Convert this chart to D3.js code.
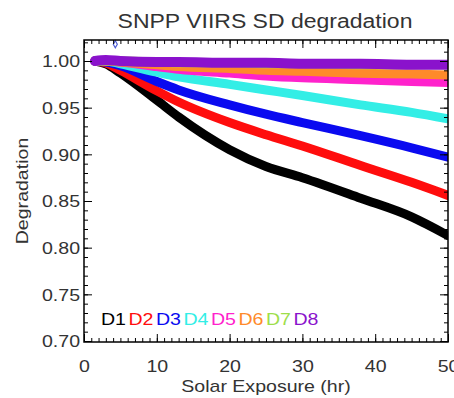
<!DOCTYPE html>
<html>
<head>
<meta charset="utf-8">
<script src="https://d3js.org/d3.v7.min.js"></script>
<style>
  body { margin: 0; background: #fff; }
  svg { display: block; font-family: "Liberation Sans", Arial, sans-serif; }
</style>
</head>
<body>
<svg id="chart" width="454" height="398"></svg>
<script>
// solar exposure (hr) sample points shared by all detectors
var hours = [1.5, 3, 5, 10, 13, 20, 25, 30, 38, 45, 50];

// degradation per detector
var d1 = [1.000, 0.997, 0.987, 0.958, 0.940, 0.905, 0.887, 0.875, 0.853, 0.833, 0.813];
var d2 = [1.000, 0.998, 0.990, 0.968, 0.956, 0.934, 0.921, 0.909, 0.888, 0.870, 0.856];
var d3s = [1.000, 0.999, 0.995, 0.978, 0.969, 0.953, 0.943, 0.934, 0.920, 0.907, 0.897];
var d4 = [1.000, 1.000, 0.997, 0.988, 0.983, 0.975, 0.969, 0.963, 0.953, 0.945, 0.938];
var d5 = [1.000, 1.000, 0.999, 0.994, 0.991, 0.987, 0.984, 0.982, 0.980, 0.978, 0.977];
var d6 = [1.000, 1.000, 0.999, 0.996, 0.994, 0.992, 0.990, 0.989, 0.987, 0.986, 0.985];
var d7 = [1.000, 1.000, 1.000, 0.999, 0.998, 0.998, 0.997, 0.997, 0.996, 0.996, 0.996];
var d8 = [1.000, 1.001, 1.000, 0.999, 0.999, 0.998, 0.998, 0.997, 0.997, 0.996, 0.996];

var names = ["D1", "D2", "D3", "D4", "D5", "D6", "D7", "D8"];
var colors = ["#000000", "#ff0d0d", "#0a0af0", "#33eee6", "#ff22cc", "#ff8a2a", "#9ede4a", "#8a12cc"];
var series = [d1, d2, d3s, d4, d5, d6, d7, d8];

// lone out-of-range point near the top
var strayHour = 4.3, strayValue = 1.018;

var xTicks = [0, 10, 20, 30, 40, 50];
var yTicks = [0.70, 0.75, 0.80, 0.85, 0.90, 0.95, 1.00];

(function () {
  var svg = d3.select("#chart");
  var pl = 84, pr = 448, pt = 40, pb = 342;
  var stretch = 1.15;  // text in the picture is drawn wide

  var x = d3.scaleLinear().domain([0, 50]).range([pl, pr]);
  var y = d3.scaleLinear().domain([0.70, 1.0225]).range([341, pt]);

  function widen(sel) {
    sel.each(function () {
      var w = this.getComputedTextLength();
      d3.select(this).attr("textLength", w * stretch).attr("lengthAdjust", "spacingAndGlyphs");
    });
  }

  svg.append("clipPath").attr("id", "plot")
    .append("rect").attr("x", pl).attr("y", pt)
    .attr("width", pr - pl).attr("height", pb - pt);

  var line = d3.line()
    .x(function (d) { return x(d[0]); })
    .y(function (d) { return y(d[1]); })
    .curve(d3.curveMonotoneX);

  var lines = svg.append("g").attr("clip-path", "url(#plot)");
  series.forEach(function (vals, i) {
    lines.append("path")
      .datum(hours.map(function (h, j) { return [h, vals[j]]; }))
      .attr("d", line)
      .attr("fill", "none")
      .attr("stroke", colors[i])
      .attr("stroke-width", i == 7 ? 10 : 9)
      .attr("stroke-linecap", "round")
      .attr("stroke-linejoin", "round");
  });

  svg.append("path")
    .attr("d", d3.symbol(d3.symbolDiamond, 14)())
    .attr("transform", "translate(" + x(strayHour) + "," + y(strayValue) + ")")
    .attr("fill", "none")
    .attr("stroke", "#4b5bd6")
    .attr("stroke-width", 1.2);

  // frame
  svg.append("rect")
    .attr("x", pl).attr("y", pt)
    .attr("width", pr - pl).attr("height", pb - pt)
    .attr("fill", "none").attr("stroke", "#000").attr("stroke-width", 1.5);

  var minorX = d3.range(0, 51, 1);
  var minorY = d3.range(70, 103, 1).map(function (v) { return v / 100; });

  function tickAxis(axis, tr, vals, size, labels) {
    var g = svg.append("g").attr("transform", tr)
      .call(axis.tickValues(vals).tickSize(size).tickSizeOuter(0).tickPadding(5)
        .tickFormat(labels ? labels : ""));
    g.select(".domain").remove();
    g.selectAll("line").attr("stroke", "#000").attr("stroke-width", 1);
    return g;
  }

  tickAxis(d3.axisBottom(x), "translate(0," + pb + ")", minorX, -4);
  tickAxis(d3.axisTop(x), "translate(0," + pt + ")", minorX, -4);
  tickAxis(d3.axisLeft(y), "translate(" + pl + ",0)", minorY, -4);
  tickAxis(d3.axisRight(y), "translate(" + pr + ",0)", minorY, -4);
  tickAxis(d3.axisTop(x), "translate(0," + pt + ")", xTicks, -8);
  tickAxis(d3.axisRight(y), "translate(" + pr + ",0)", yTicks, -8);

  var xa = tickAxis(d3.axisBottom(x), "translate(0," + pb + ")", xTicks, -8, d3.format("d"));
  xa.selectAll("text").attr("font-size", 17).attr("fill", "#333")
    .attr("y", 30).attr("dy", 0);
  var ya = tickAxis(d3.axisLeft(y), "translate(" + pl + ",0)", yTicks, -8, d3.format(".2f"));
  ya.selectAll("text").attr("font-size", 17).attr("fill", "#333")
    .attr("x", -4).attr("dy", "0.35em");
  xa.selectAll("text").call(widen);
  ya.selectAll("text").call(widen);

  svg.append("text")
    .attr("x", 265).attr("y", 28)
    .attr("text-anchor", "middle")
    .attr("font-size", 20).attr("fill", "#333")
    .text("SNPP VIIRS SD degradation").call(widen);

  svg.append("text")
    .attr("x", 266).attr("y", 392)
    .attr("text-anchor", "middle")
    .attr("font-size", 17).attr("fill", "#333")
    .text("Solar Exposure (hr)").call(widen);

  svg.append("text")
    .attr("transform", "translate(28,191) rotate(-90)")
    .attr("text-anchor", "middle")
    .attr("font-size", 17).attr("fill", "#333")
    .text("Degradation").call(widen);

  svg.append("g").selectAll("text")
    .data(names)
    .enter().append("text")
    .attr("x", function (d, i) { return 101 + i * 27.5; })
    .attr("y", 325)
    .attr("font-size", 17)
    .attr("fill", function (d, i) { return colors[i]; })
    .text(function (d) { return d; })
    .call(widen);
})();
</script>
</body>
</html>
